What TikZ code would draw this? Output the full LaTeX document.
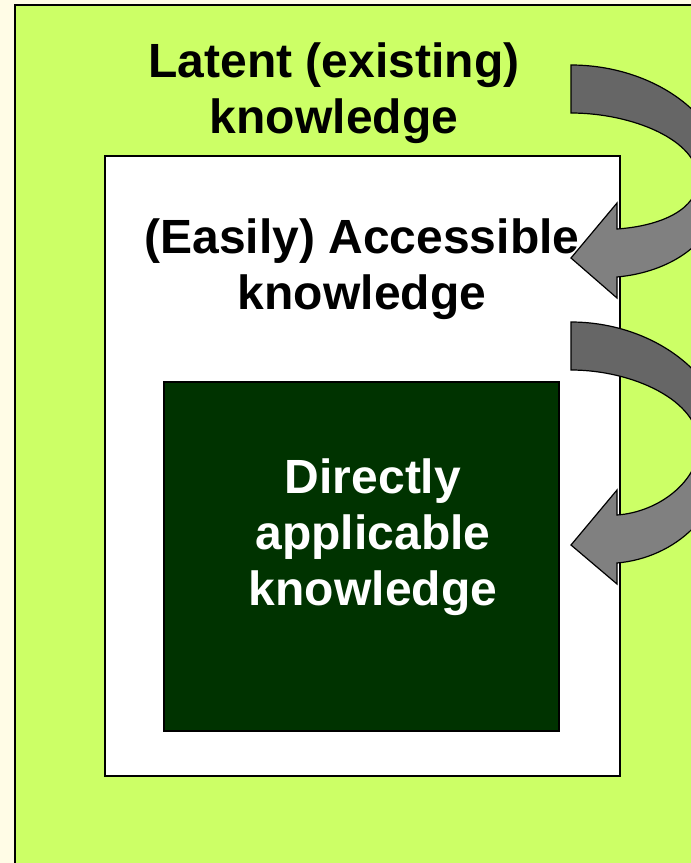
\documentclass[tikz,border=0pt]{standalone}
\usepackage{fontspec}
\setmainfont{Liberation Sans}
\usetikzlibrary{positioning}
\definecolor{paper}{HTML}{FFFCE6}
\definecolor{latentgreen}{HTML}{CCFF66}
\definecolor{directgreen}{HTML}{003300}
\definecolor{arrowdark}{HTML}{666666}
\definecolor{arrowlight}{HTML}{808080}
\begin{document}
\begin{tikzpicture}[x=1pt,y=-1pt,
    layer box/.style={draw=black,line width=1.5pt,inner sep=0pt,anchor=north west},
    label node/.style={font=\fontsize{48}{56}\selectfont\bfseries,align=center,inner sep=0pt,anchor=base},
    fold dark/.style={fill=arrowdark,draw=black,line width=1.2pt},
    fold light/.style={fill=arrowlight,draw=black,line width=1.2pt}]
  \useasboundingbox (0,0) rectangle (691,863);
  \clip (0,0) rectangle (691,863);
  \fill[paper] (0,0) rectangle (691,863);

  % the three layers
  \node[layer box,fill=latentgreen,line width=2pt,minimum width=720pt,minimum height=900pt] (latent) at (14,4) {};
  \node[layer box,fill=white,minimum width=515pt,minimum height=620pt] (accessible) at (104,155) {};
  \node[layer box,fill=directgreen,minimum width=395pt,minimum height=349pt] (direct) at (163,381) {};

  % base anchor sits on the last line
  \node[label node] (latent text) at (334,133) {Latent (existing)\\knowledge};
  \node[label node] (accessible text) at (362,309) {(Easily) Accessible\\knowledge};
  \node[label node,text=white] (direct text) at (373,605) {Directly\\applicable\\knowledge};

  % upper bent arrow
  \draw[fold dark] (571,65) -- (571,113) .. controls (632,113) and (698,140) .. (698,179)
    -- (724,177) .. controls (724,115) and (652,65) .. (571,65) -- cycle;
  \draw[fold light] (698,179) .. controls (698,210) and (660,226) .. (617,229)
    -- (617,203) -- (571,258) -- (617,298) -- (617,277)
    .. controls (672,272) and (724,240) .. (724,177) -- cycle;

  % lower bent arrow
  \draw[fold dark] (571,322) -- (571,370) .. controls (632,370) and (699,400) .. (699,445)
    -- (726,445) .. controls (726,375) and (652,322) .. (571,322) -- cycle;
  \draw[fold light] (699,445) .. controls (699,480) and (660,512) .. (617,515)
    -- (617,490) -- (571,545) -- (617,584) -- (617,563)
    .. controls (674,558) and (726,515) .. (726,445) -- cycle;
\end{tikzpicture}
\end{document}
